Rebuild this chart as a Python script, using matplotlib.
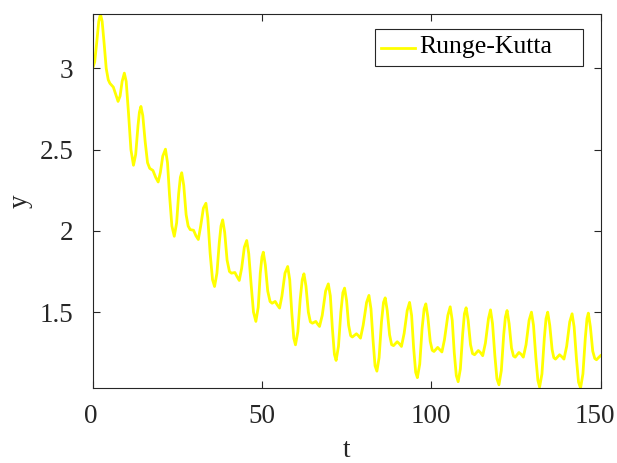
import matplotlib
matplotlib.use("Agg")
import matplotlib.pyplot as plt
from matplotlib.patches import Rectangle
from matplotlib.lines import Line2D
import matplotlib.transforms as mtransforms

# values (time t, solution y)
t_vals = [0, 0.6, 1.2, 1.8, 2.3, 2.8, 3.4, 4.0, 4.6, 5.1, 6.1, 6.8, 7.5, 8.1, 8.7, 9.35, 9.9, 10.6, 11.3, 12.05,
          12.7, 13.4, 13.8, 14.25, 14.8, 15.5, 16.2, 16.85, 17.8, 18.6, 19.35, 20.0, 20.7, 21.5, 22.1, 22.7, 23.4, 24.1,
          24.8, 25.4, 25.9, 26.3, 26.9, 27.6, 28.2, 28.8, 29.8, 30.5, 31.2, 31.9, 32.7, 33.45, 34.0, 34.7, 35.4, 36.0,
          36.7, 37.4, 37.9, 38.4, 39.0, 39.7, 40.4, 41.0, 42.0, 42.6, 43.3, 44.0, 44.8, 45.5, 46.1, 46.8, 47.5, 48.2,
          48.9, 49.5, 50.0, 50.4, 51.0, 51.7, 52.4, 53.0, 53.9, 54.5, 55.2, 55.9, 56.8, 57.6, 58.2, 58.8, 59.4, 59.9,
          60.6, 61.3, 61.9, 62.4, 63.0, 63.7, 64.3, 64.9, 65.9, 66.5, 67.0, 67.8, 68.8, 69.6, 70.2, 70.8, 71.4, 71.9,
          72.6, 73.3, 73.9, 74.4, 75.0, 75.6, 76.2, 76.7, 77.9, 78.5, 79.1, 79.9, 80.9, 81.6, 82.2, 82.8, 83.4, 83.95,
          84.6, 85.3, 85.9, 86.4, 87.0, 87.7, 88.3, 88.85, 89.95, 90.6, 91.2, 92.0, 92.9, 93.6, 94.2, 94.8, 95.4, 95.9,
          96.6, 97.3, 97.9, 98.4, 99.0, 99.7, 100.3, 100.8, 101.9, 102.5, 103.15, 103.9, 104.9, 105.6, 106.2, 106.8,
          107.4, 107.95, 108.6, 109.3, 109.8, 110.3, 110.9, 111.6, 112.2, 112.8, 113.9, 114.6, 115.2, 116.0, 116.9,
          117.5, 118.1, 118.8, 119.4, 120.0, 120.7, 121.4, 121.9, 122.4, 123.0, 123.7, 124.3, 124.8, 125.9, 126.6,
          127.2, 128.0, 128.9, 129.6, 130.2, 130.9, 131.5, 132.0, 132.7, 133.4, 133.9, 134.4, 135.0, 135.7, 136.2,
          136.7, 137.9, 138.6, 139.2, 140.0, 140.9, 141.6, 142.2, 142.9, 143.5, 144.1, 144.8, 145.5, 146.0, 146.4,
          147.0, 147.7, 148.3, 148.8, 149.4, 150.0]
y_vals = [3.000, 3.04, 3.16, 3.29, 3.334, 3.29, 3.15, 3.00, 2.93, 2.908, 2.885, 2.84, 2.797, 2.83, 2.92, 2.971, 2.92,
          2.72, 2.50, 2.404, 2.47, 2.65, 2.73, 2.766, 2.71, 2.55, 2.42, 2.385, 2.372, 2.33, 2.301, 2.36, 2.46, 2.503,
          2.42, 2.22, 2.03, 1.967, 2.05, 2.23, 2.33, 2.358, 2.28, 2.10, 2.03, 2.008, 2.004, 1.97, 1.947, 2.03, 2.14,
          2.170, 2.08, 1.86, 1.70, 1.658, 1.74, 1.93, 2.03, 2.068, 1.99, 1.82, 1.75, 1.740, 1.744, 1.72, 1.695, 1.77,
          1.90, 1.941, 1.86, 1.67, 1.50, 1.443, 1.53, 1.74, 1.84, 1.869, 1.79, 1.63, 1.565, 1.555, 1.566, 1.545, 1.525,
          1.60, 1.74, 1.781, 1.70, 1.50, 1.34, 1.299, 1.38, 1.58, 1.70, 1.736, 1.66, 1.50, 1.44, 1.432, 1.443, 1.425,
          1.412, 1.48, 1.63, 1.674, 1.60, 1.40, 1.24, 1.203, 1.29, 1.50, 1.62, 1.648, 1.57, 1.42, 1.355, 1.347, 1.367,
          1.355, 1.340, 1.42, 1.56, 1.603, 1.52, 1.33, 1.17, 1.137, 1.22, 1.44, 1.56, 1.588, 1.51, 1.36, 1.30, 1.294,
          1.318, 1.305, 1.289, 1.37, 1.51, 1.560, 1.48, 1.28, 1.13, 1.097, 1.18, 1.40, 1.52, 1.551, 1.47, 1.32, 1.265,
          1.258, 1.283, 1.27, 1.255, 1.33, 1.48, 1.533, 1.45, 1.25, 1.11, 1.072, 1.15, 1.37, 1.49, 1.527, 1.45, 1.30,
          1.245, 1.238, 1.264, 1.25, 1.232, 1.31, 1.46, 1.514, 1.43, 1.23, 1.09, 1.053, 1.14, 1.36, 1.47, 1.510, 1.43,
          1.28, 1.23, 1.223, 1.252, 1.24, 1.223, 1.30, 1.45, 1.500, 1.42, 1.22, 1.08, 1.039, 1.12, 1.34, 1.46, 1.500,
          1.42, 1.27, 1.22, 1.211, 1.238, 1.225, 1.211, 1.29, 1.44, 1.490, 1.41, 1.21, 1.07, 1.033, 1.12, 1.34, 1.46,
          1.494, 1.41, 1.26, 1.215, 1.207, 1.22, 1.232]

x_ticks = [0, 50, 100, 150]
y_ticks = [1.5, 2, 2.5, 3]
y_tick_labels = ["1.5", "2", "2.5", "3"]
series_name = "Runge-Kutta"

plt.rcParams['font.family'] = ['Liberation Serif', 'DejaVu Serif']
fs = 19.5
axc = '#262626'
line_color = (1, 1, 0)

fig = plt.figure(figsize=(6.17, 4.63), dpi=100)
ax = fig.add_axes([0.1502, 0.1626, 0.9733 - 0.1502, 0.9698 - 0.1626])
ax.plot(t_vals, y_vals, color=line_color, lw=2.0)

ax.set_xlim(0, 150)
ax.set_ylim(1.035, 3.335)
ax.set_xticks(x_ticks)
ax.set_yticks(y_ticks)
ax.set_yticklabels(y_tick_labels)
ax.tick_params(direction='in', length=5, width=0.8, top=True, right=True,
               labelsize=fs, colors=axc)
ax.tick_params(axis='x', pad=12)
ax.tick_params(axis='y', pad=14)
for s in ax.spines.values():
    s.set_color(axc)
    s.set_linewidth(0.8)

# keep the last x tick label inside the figure, as in the reference
fig.canvas.draw()
xl = ax.get_xticklabels()
xl[-1].set_transform(xl[-1].get_transform() + mtransforms.ScaledTranslation(-6 / 100, 0, fig.dpi_scale_trans))
xl[0].set_transform(xl[0].get_transform() + mtransforms.ScaledTranslation(-2 / 100, 0, fig.dpi_scale_trans))

ax.set_xlabel('t', fontsize=fs, color=axc, labelpad=6)
ax.set_ylabel('y', fontsize=fs, color=axc, labelpad=5)

# legend box (MATLAB style, with extra room on the right)
W, H = 617.0, 463.0
box = Rectangle((375 / W, 1 - 65.7 / H), (583 - 375) / W, (65.7 - 29.3) / H,
                transform=fig.transFigure, facecolor='white', edgecolor=axc, lw=0.8, zorder=5)
fig.add_artist(box)
ly = 1 - 47.5 / H
fig.add_artist(Line2D([381 / W, 415 / W], [ly, ly], transform=fig.transFigure,
                      color=line_color, lw=2.0, zorder=6))
fig.text(419 / W, ly + 1.0 / H, series_name, fontsize=18.5, color='black',
         ha='left', va='center', zorder=6)

fig.savefig('out.png', dpi=100)
